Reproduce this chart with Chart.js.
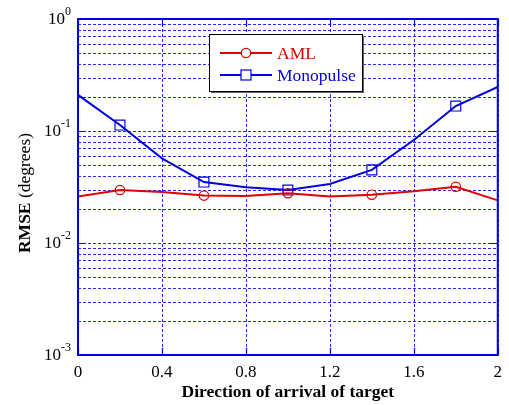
<!DOCTYPE html>
<html>
<head>
<meta charset="utf-8">
<script src="https://cdn.jsdelivr.net/npm/chart.js@4/dist/chart.umd.min.js"></script>
<style>
  html, body { margin: 0; padding: 0; background: #ffffff; }
  #wrap { width: 509px; height: 405px; position: relative; }
</style>
</head>
<body>
<div id="wrap"><canvas id="c" width="509" height="405"></canvas></div>
<script>
// ---- data ----
const directions = [0, 0.2, 0.4, 0.6, 0.8, 1.0, 1.2, 1.4, 1.6, 1.8, 2.0];
const amlRmse = [0.026, 0.0297, 0.0285, 0.0265, 0.0263, 0.0278, 0.026, 0.027, 0.029, 0.0318, 0.024];
const monopulseRmse = [0.21, 0.113, 0.057, 0.035, 0.0314, 0.0297, 0.0336, 0.045, 0.083, 0.167, 0.247];
const seriesNames = ['AML', 'Monopulse'];
const xTickValues = [0, 0.4, 0.8, 1.2, 1.6, 2];
const xTickLabels = ['0', '0.4', '0.8', '1.2', '1.6', '2'];
const yDecadeValues = [0.001, 0.01, 0.1, 1];
const yDecadeExponents = ['-3', '-2', '-1', '0'];
const xTitle = 'Direction of arrival of target';
const yTitleBold = 'RMSE';
const yTitleRest = ' (degrees)';

// log grid: 1..9 x each decade
const yGridValues = [];
for (let d = 0; d < yDecadeValues.length - 1; d++) {
  for (let k = 1; k <= 9; k++) yGridValues.push(+(yDecadeValues[d] * k).toPrecision(3));
}
yGridValues.push(1);

const SERIF = '"Liberation Serif", "Times New Roman", serif';
const FRAME = '#0000e6';
const GRID = 'rgb(40,40,255)';
const RED = '#e00000';
const BLUE = '#0000e0';

// dotted grid drawn from the scales' own ticks
const gridPlugin = {
  id: 'gridPlugin',
  beforeDatasetsDraw(chart) {
    const ctx = chart.ctx;
    const a = chart.chartArea;
    const xs = chart.scales.x, ys = chart.scales.y;
    ctx.save();
    ctx.strokeStyle = GRID;
    ctx.lineWidth = 1;
    ctx.setLineDash([3, 2]);
    ctx.beginPath();
    xs.ticks.forEach(t => {
      const px = Math.round(xs.getPixelForValue(t.value)) + 0.5;
      ctx.moveTo(px, a.top); ctx.lineTo(px, a.bottom);
    });
    ys.ticks.forEach(t => {
      const py = Math.round(ys.getPixelForValue(t.value)) + 0.5;
      ctx.moveTo(a.left, py); ctx.lineTo(a.right, py);
    });
    ctx.stroke();
    ctx.restore();
  }
};

const framePlugin = {
  id: 'framePlugin',
  afterDraw(chart) {
    const ctx = chart.ctx;
    const a = chart.chartArea;
    const xs = chart.scales.x, ys = chart.scales.y;
    ctx.save();
    // inner tick marks
    ctx.strokeStyle = FRAME;
    ctx.lineWidth = 1.2;
    ctx.setLineDash([]);
    ctx.beginPath();
    xTickValues.forEach(v => {
      const px = Math.round(xs.getPixelForValue(v)) + 0.5;
      ctx.moveTo(px, a.bottom); ctx.lineTo(px, a.bottom - 7);
      ctx.moveTo(px, a.top); ctx.lineTo(px, a.top + 7);
    });
    yDecadeValues.forEach(v => {
      const py = Math.round(ys.getPixelForValue(v)) + 0.5;
      ctx.moveTo(a.left, py); ctx.lineTo(a.left + 8, py);
      ctx.moveTo(a.right, py); ctx.lineTo(a.right - 8, py);
    });
    ctx.stroke();
    // frame
    ctx.lineWidth = 2;
    ctx.strokeRect(a.left, a.top, a.right - a.left, a.bottom - a.top);

    // y tick labels 10^n
    ctx.fillStyle = '#000';
    ctx.textBaseline = 'alphabetic';
    yDecadeValues.forEach((v, i) => {
      const py = ys.getPixelForValue(v);
      const exp = yDecadeExponents[i];
      ctx.font = '12px ' + SERIF;
      ctx.textAlign = 'right';
      const ew = ctx.measureText(exp).width;
      ctx.fillText(exp, 71, py - 4);
      ctx.font = '17px ' + SERIF;
      ctx.fillText('10', 71 - ew, py + 5);
    });

    // y title (mixed bold / regular)
    ctx.save();
    ctx.translate(30, 193);
    ctx.rotate(-Math.PI / 2);
    ctx.textAlign = 'left';
    ctx.font = 'bold 17.5px ' + SERIF;
    const w1 = ctx.measureText(yTitleBold).width;
    ctx.font = '17.5px ' + SERIF;
    const w2 = ctx.measureText(yTitleRest).width;
    let sx = -(w1 + w2) / 2;
    ctx.font = 'bold 17.5px ' + SERIF;
    ctx.fillText(yTitleBold, sx, 0);
    ctx.font = '17.5px ' + SERIF;
    ctx.fillText(yTitleRest, sx + w1, 0);
    ctx.restore();

    // legend box
    const bx = 209, by = 34, bw = 153, bh = 57;
    ctx.fillStyle = '#666';
    ctx.fillRect(bx + 2, by + 2, bw, bh);
    ctx.fillStyle = '#fff';
    ctx.fillRect(bx, by, bw, bh);
    ctx.strokeStyle = '#000';
    ctx.lineWidth = 1;
    ctx.strokeRect(bx + 0.5, by + 0.5, bw, bh);
    const rows = [53, 75];
    chart.data.datasets.forEach((ds, i) => {
      const y = rows[i];
      ctx.strokeStyle = ds.borderColor;
      ctx.lineWidth = 2;
      ctx.beginPath();
      ctx.moveTo(220, y); ctx.lineTo(272, y);
      ctx.stroke();
      ctx.lineWidth = 1.2;
      ctx.fillStyle = '#fff';
      if (ds.pointStyle === 'circle') {
        ctx.beginPath(); ctx.arc(246, y, 4.7, 0, Math.PI * 2); ctx.fill(); ctx.stroke();
      } else {
        ctx.fillRect(241, y - 5, 10, 10); ctx.strokeRect(241, y - 5, 10, 10);
      }
      ctx.fillStyle = ds.borderColor;
      ctx.font = '17.5px ' + SERIF;
      ctx.textAlign = 'left';
      ctx.fillText(ds.label, 277, y + 6);
    });
    ctx.restore();
  }
};

const markerRadius = (size) => (c) => (c.dataIndex % 2 === 1 ? size : 0);

new Chart(document.getElementById('c'), {
  type: 'line',
  data: {
    labels: directions,
    datasets: [
      {
        label: seriesNames[0],
        data: directions.map((x, i) => ({ x, y: amlRmse[i] })),
        borderColor: RED,
        backgroundColor: RED,
        borderWidth: 2,
        tension: 0,
        pointStyle: 'circle',
        pointRadius: markerRadius(4.7),
        pointBorderColor: RED,
        pointBackgroundColor: 'rgba(0,0,0,0)',
        pointBorderWidth: 1.2
      },
      {
        label: seriesNames[1],
        data: directions.map((x, i) => ({ x, y: monopulseRmse[i] })),
        borderColor: BLUE,
        backgroundColor: BLUE,
        borderWidth: 2,
        tension: 0,
        pointStyle: 'rect',
        pointRadius: markerRadius(7),
        pointBorderColor: BLUE,
        pointBackgroundColor: 'rgba(0,0,0,0)',
        pointBorderWidth: 1.2
      }
    ]
  },
  options: {
    responsive: false,
    animation: false,
    events: [],
    layout: { padding: { left: 0, right: 10, top: 19, bottom: 0 } },
    plugins: { legend: { display: false }, tooltip: { enabled: false } },
    scales: {
      x: {
        type: 'linear',
        min: 0, max: 2,
        afterBuildTicks: (s) => { s.ticks = xTickValues.map(v => ({ value: v })); },
        afterFit: (s) => { s.height = 50; },
        ticks: {
          color: '#000',
          padding: 7,
          maxRotation: 0,
          font: { family: SERIF, size: 17 },
          callback: (v, i) => xTickLabels[i]
        },
        grid: { display: false, drawTicks: false },
        border: { display: false },
        title: {
          display: true,
          text: xTitle,
          color: '#000',
          font: { family: SERIF, size: 17.5, weight: 'bold' },
          padding: { top: 0, bottom: 2 }
        }
      },
      y: {
        type: 'logarithmic',
        min: 0.001, max: 1,
        afterBuildTicks: (s) => { s.ticks = yGridValues.map(v => ({ value: v })); },
        afterFit: (s) => { s.width = 78; },
        ticks: { display: false },
        grid: { display: false, drawTicks: false },
        border: { display: false }
      }
    }
  },
  plugins: [gridPlugin, framePlugin]
});
</script>
</body>
</html>
